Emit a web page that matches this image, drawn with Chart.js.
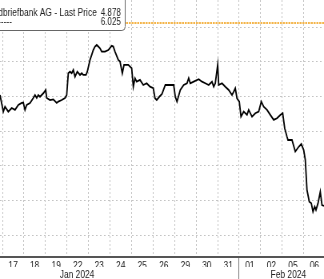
<!DOCTYPE html>
<html>
<head>
<meta charset="utf-8">
<script src="https://cdn.jsdelivr.net/npm/chart.js@4/dist/chart.umd.min.js"></script>
<style>
  html, body { margin: 0; padding: 0; background: #fff; overflow: hidden; }
  #wrap {
    position: absolute; left: 0; top: 0;
    width: 405px; height: 279px;
    transform: scaleX(0.8); transform-origin: 0 0;
  }
  #priceChart { position: absolute; left: 0; top: 0; width: 405px; height: 279px; }
</style>
</head>
<body>
<div id="wrap"><canvas id="priceChart" width="405" height="279"></canvas></div>
<script>
// trading days shown on the axis (slot i spans i..i+1)
const dayLabels = ['17', '18', '19', '22', '23', '24', '25', '26', '29', '30', '31', '01', '02', '05', '06'];
const monthLabels = ['Jan 2024', 'Feb 2024'];
const monthPos = [3.47, 13.29];

// intraday last price, x in day slots
const pointDay = [-0.112, 0.042, 0.121, 0.274, 0.432, 0.586, 0.739, 0.897, 0.971,
  1.050, 1.129, 1.283, 1.436, 1.515, 1.594, 1.668, 1.747, 1.901, 2.012,
  2.059, 2.212, 2.365, 2.523, 2.598, 2.756, 2.909, 2.988, 3.062, 3.141,
  3.220, 3.295, 3.374, 3.480, 3.606, 3.685, 3.759, 3.885, 3.945, 4.071,
  4.150, 4.224, 4.303, 4.382, 4.456, 4.535, 4.614, 4.768, 4.921, 5.079,
  5.153, 5.232, 5.386, 5.465, 5.572, 5.651, 5.850, 6.008, 6.083, 6.162,
  6.241, 6.394, 6.547, 6.705, 6.859, 7.012, 7.091, 7.170, 7.291, 7.416,
  7.570, 7.728, 7.960, 8.034, 8.113, 8.267, 8.425, 8.578, 8.657, 8.731,
  8.889, 9.122, 9.275, 9.428, 9.586, 9.740, 9.819, 9.893, 10.005, 10.051,
  10.205, 10.358, 10.516, 10.669, 10.748, 10.822, 10.901, 11.008, 11.087, 11.213,
  11.366, 11.445, 11.599, 11.752, 11.910, 12.031, 12.142, 12.296, 12.449, 12.607,
  12.760, 12.914, 13.025, 13.118, 13.225, 13.271, 13.457, 13.610, 13.769, 13.889,
  14.001, 14.075, 14.154, 14.261, 14.354, 14.433, 14.512, 14.572, 14.665, 14.772,
  14.851, 14.944];
const pointPrice = [5.609, 5.513, 5.542, 5.513, 5.534, 5.523, 5.552, 5.563, 5.565,
  5.523, 5.552, 5.563, 5.592, 5.609, 5.592, 5.609, 5.599, 5.619, 5.638,
  5.592, 5.580, 5.584, 5.563, 5.571, 5.580, 5.592, 5.609, 5.735, 5.744,
  5.735, 5.754, 5.715, 5.744, 5.725, 5.735, 5.725, 5.725, 5.744, 5.812,
  5.841, 5.869, 5.889, 5.898, 5.889, 5.879, 5.860, 5.860, 5.869, 5.893,
  5.889, 5.860, 5.812, 5.802, 5.735, 5.783, 5.783, 5.764, 5.657, 5.706,
  5.686, 5.696, 5.667, 5.677, 5.657, 5.648, 5.590, 5.580, 5.599, 5.615,
  5.667, 5.667, 5.667, 5.599, 5.571, 5.638, 5.667, 5.677, 5.706, 5.677,
  5.686, 5.700, 5.686, 5.677, 5.667, 5.686, 5.657, 5.677, 5.783, 5.667,
  5.677, 5.657, 5.638, 5.609, 5.628, 5.648, 5.590, 5.571, 5.484, 5.513,
  5.494, 5.523, 5.484, 5.504, 5.513, 5.571, 5.542, 5.523, 5.494, 5.465,
  5.475, 5.494, 5.504, 5.417, 5.368, 5.349, 5.349, 5.282, 5.310, 5.326,
  5.291, 5.234, 5.060, 4.993, 4.983, 4.935, 4.964, 4.945, 4.983, 5.050,
  4.973, 4.968];

const levelPrice = 6.025;
const lastPrice = '4.878';
const seriesName = 'Deutsche Pfandbriefbank AG - Last Price';
const yTicks = [4.8, 5.0, 5.2, 5.4, 5.6, 5.8, 6.0];

const xMin = pointDay[0], xMax = pointDay[pointDay.length - 1];
const yMin = 4.676, yMax = 6.158;
const monthStart = dayLabels.indexOf('01');

const ctx = document.getElementById('priceChart').getContext('2d');
const fontFamily = '"Liberation Sans", Arial, sans-serif';
const tickFont = { family: fontFamily, size: 10.5 };

// legend box in the top left corner, partly cut off like the original
const legendBox = {
  id: 'legendBox',
  afterDraw: (chart) => {
    const c = chart.ctx;
    c.save();
    c.beginPath();
    c.roundRect(-120, -6, 276.5, 36.5, 4);
    c.fillStyle = '#fff';
    c.fill();
    c.lineWidth = 1;
    c.strokeStyle = '#666';
    c.stroke();
    c.fillStyle = '#222';
    c.textBaseline = 'middle';
    c.textAlign = 'right';
    c.font = '10.5px ' + fontFamily;
    c.fillText(seriesName, 121, 13);
    c.fillText('-----', 15, 22);
    c.font = '10px ' + fontFamily;
    c.fillText(lastPrice, 151, 13);
    c.fillText(levelPrice.toFixed(3), 151, 22);
    c.restore();
  }
};

new Chart(ctx, {
  type: 'line',
  data: {
    datasets: [{
      data: pointDay.map((d, i) => ({ x: d, y: pointPrice[i] })),
      borderColor: '#000',
      borderWidth: 1.8,
      pointRadius: 0,
      tension: 0
    }, {
      data: [{ x: xMin, y: levelPrice }, { x: xMax, y: levelPrice }],
      borderColor: '#f4b54a',
      borderWidth: 2,
      borderDash: [2.5, 1],
      pointRadius: 0
    }]
  },
  options: {
    responsive: false,
    animation: false,
    layout: { padding: 0 },
    plugins: { legend: { display: false }, tooltip: { enabled: false } },
    scales: {
      x: {
        type: 'linear', position: 'bottom', weight: 0,
        min: xMin, max: xMax,
        afterBuildTicks: s => { s.ticks = dayLabels.map((_, i) => ({ value: i })); },
        afterFit: s => { s.height = 0; },
        ticks: { display: false },
        grid: {
          color: '#c4c4c4', lineWidth: 1,
          drawTicks: true, tickLength: 23, tickWidth: 1,
          tickColor: c => (c.tick && c.tick.value === monthStart) ? '#777' : 'rgba(0,0,0,0)'
        },
        border: { display: true, color: '#555', width: 2, dash: [2, 2] }
      },
      x2: {
        type: 'linear', position: 'bottom', weight: 1,
        min: xMin, max: xMax,
        afterBuildTicks: s => { s.ticks = dayLabels.map((_, i) => ({ value: i + 0.5 })); },
        afterFit: s => { s.height = 10.5; },
        grid: { display: false },
        border: { display: false },
        ticks: {
          autoSkip: false, maxRotation: 0, padding: -5,
          color: '#222', font: tickFont,
          callback: (v, i) => dayLabels[i]
        }
      },
      x3: {
        type: 'linear', position: 'bottom', weight: 2,
        min: xMin, max: xMax,
        afterBuildTicks: s => { s.ticks = monthPos.map(v => ({ value: v })); },
        afterFit: s => { s.height = 12; },
        grid: { display: false },
        border: { display: false },
        ticks: {
          autoSkip: false, maxRotation: 0, padding: -6,
          color: '#222', font: tickFont,
          callback: (v, i) => monthLabels[i]
        }
      },
      y: {
        min: yMin, max: yMax,
        afterBuildTicks: s => { s.ticks = yTicks.map(v => ({ value: v })); },
        ticks: { display: false },
        grid: { color: '#c4c4c4', lineWidth: 1, drawTicks: false },
        border: { display: false, dash: [2, 3] }
      }
    }
  },
  plugins: [legendBox]
});
</script>
</body>
</html>
